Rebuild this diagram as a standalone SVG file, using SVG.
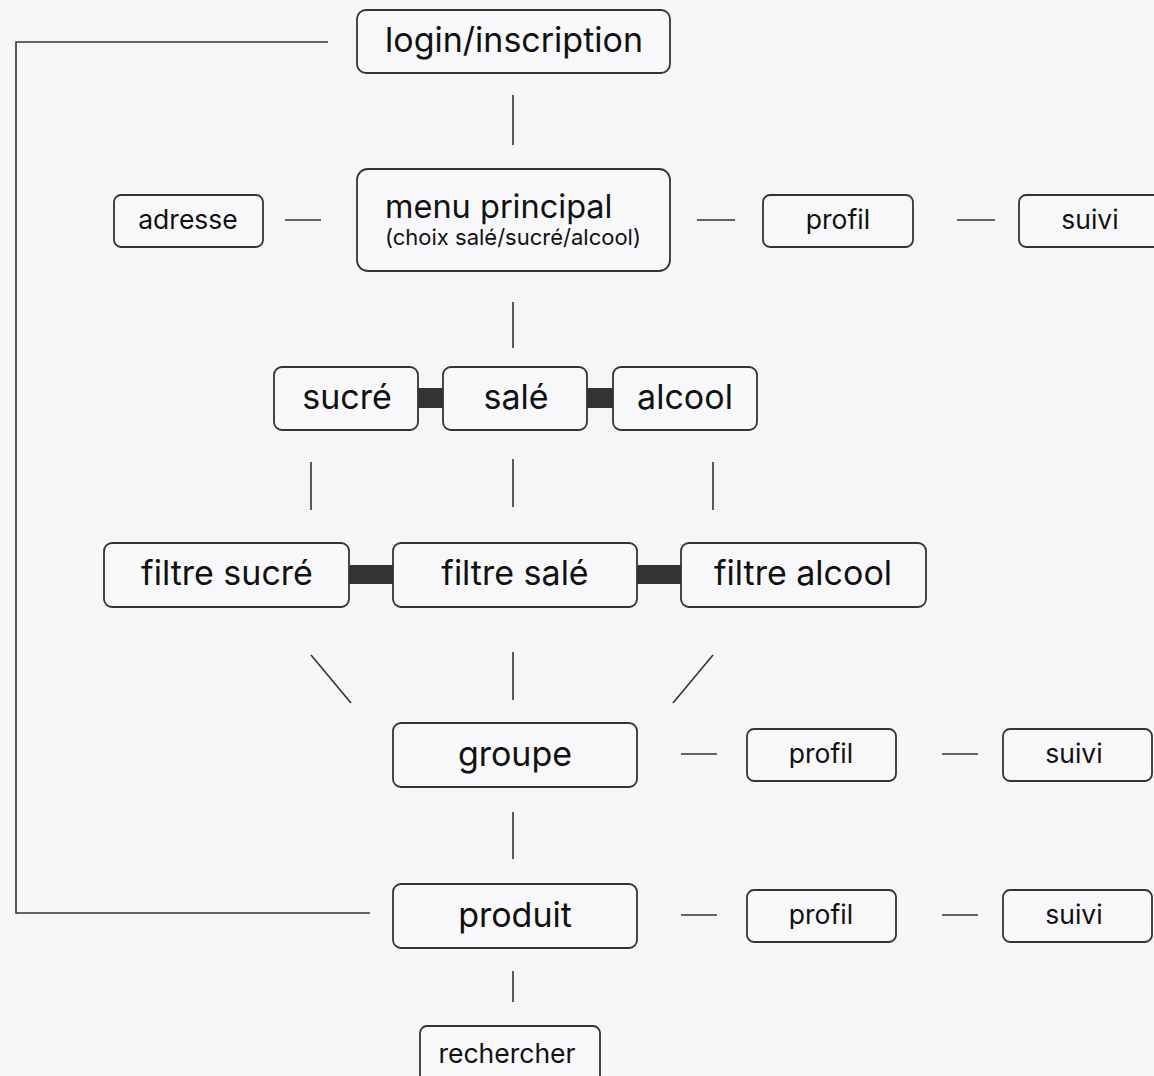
<svg xmlns="http://www.w3.org/2000/svg" width="1154" height="1076" viewBox="0 0 1154 1076">
<style>
.bg{fill:#f6f6f8}
.box{fill:#f8f8fa;stroke:#333;stroke-width:1.8}
.ln{stroke:#333;stroke-width:1.6;fill:none}
.bar{fill:#333}
text{font-family:Inter,"Liberation Sans",sans-serif;fill:#111;text-anchor:middle}
.big{font-size:34px}
.mid{font-size:26.5px}
</style>
<rect class="bg" x="0" y="0" width="1154" height="1076"/>
<g id="connectors">
<polyline class="ln" points="328,42 16,42 16,913 370,913"/>
<line class="ln" x1="513" y1="95" x2="513" y2="145"/>
<line class="ln" x1="285" y1="220" x2="321" y2="220"/>
<line class="ln" x1="697" y1="220" x2="735" y2="220"/>
<line class="ln" x1="957" y1="220" x2="995" y2="220"/>
<line class="ln" x1="513" y1="302" x2="513" y2="348"/>
<rect class="bar" x="418" y="388" width="25" height="20"/>
<rect class="bar" x="587" y="388" width="26" height="20"/>
<line class="ln" x1="311" y1="462" x2="311" y2="510"/>
<line class="ln" x1="513" y1="459" x2="513" y2="507"/>
<line class="ln" x1="713" y1="462" x2="713" y2="510"/>
<rect class="bar" x="349" y="565" width="44" height="19"/>
<rect class="bar" x="637" y="565" width="44" height="19"/>
<line class="ln" x1="311" y1="655" x2="351" y2="703"/>
<line class="ln" x1="513" y1="652" x2="513" y2="700"/>
<line class="ln" x1="713" y1="655" x2="673" y2="703"/>
<line class="ln" x1="681" y1="754" x2="717" y2="754"/>
<line class="ln" x1="942" y1="754" x2="978" y2="754"/>
<line class="ln" x1="513" y1="812" x2="513" y2="859"/>
<line class="ln" x1="681" y1="915" x2="717" y2="915"/>
<line class="ln" x1="942" y1="915" x2="978" y2="915"/>
<line class="ln" x1="513" y1="971" x2="513" y2="1002"/>
</g>
<g id="login"><rect class="box" x="357" y="10" width="313" height="63" rx="9"/><text class="big" x="514" y="52">login/inscription</text></g>
<g id="menu"><rect class="box" x="357" y="169" width="313" height="102" rx="11"/><text x="385" y="218" style="font-size:32.5px;text-anchor:start">menu principal</text><text x="385" y="245" style="font-size:22px;text-anchor:start">(choix salé/sucré/alcool)</text></g>
<g id="adresse"><rect class="box" x="114" y="195" width="149" height="52" rx="7"/><text class="mid" x="188" y="229">adresse</text></g>
<g id="profil1"><rect class="box" x="763" y="195" width="150" height="52" rx="7"/><text class="mid" x="838" y="229">profil</text></g>
<g id="suivi1"><rect class="box" x="1019" y="195" width="149" height="52" rx="7"/><text class="mid" x="1090" y="229">suivi</text></g>
<g id="sucre"><rect class="box" x="274" y="367" width="144" height="63" rx="8"/><text class="big" x="347" y="409">sucré</text></g>
<g id="sale"><rect class="box" x="443" y="367" width="144" height="63" rx="8"/><text class="big" x="516" y="409">salé</text></g>
<g id="alcool"><rect class="box" x="613" y="367" width="144" height="63" rx="8"/><text class="big" x="685" y="409">alcool</text></g>
<g id="filtre-sucre"><rect class="box" x="104" y="543" width="245" height="64" rx="8"/><text class="big" x="227" y="585">filtre sucré</text></g>
<g id="filtre-sale"><rect class="box" x="393" y="543" width="244" height="64" rx="8"/><text class="big" x="515" y="585">filtre salé</text></g>
<g id="filtre-alcool"><rect class="box" x="681" y="543" width="245" height="64" rx="8"/><text class="big" x="803" y="585">filtre alcool</text></g>
<g id="groupe"><rect class="box" x="393" y="723" width="244" height="64" rx="8"/><text class="big" x="515" y="766">groupe</text></g>
<g id="profil2"><rect class="box" x="747" y="729" width="149" height="52" rx="7"/><text class="mid" x="821" y="763">profil</text></g>
<g id="suivi2"><rect class="box" x="1003" y="729" width="149" height="52" rx="7"/><text class="mid" x="1074" y="763">suivi</text></g>
<g id="produit"><rect class="box" x="393" y="884" width="244" height="64" rx="8"/><text class="big" x="515" y="927">produit</text></g>
<g id="profil3"><rect class="box" x="747" y="890" width="149" height="52" rx="7"/><text class="mid" x="821" y="924">profil</text></g>
<g id="suivi3"><rect class="box" x="1003" y="890" width="149" height="52" rx="7"/><text class="mid" x="1074" y="924">suivi</text></g>
<g id="rechercher"><rect class="box" x="420" y="1026" width="180" height="60" rx="7"/><text class="mid" x="507" y="1063">rechercher</text></g>
</svg>
